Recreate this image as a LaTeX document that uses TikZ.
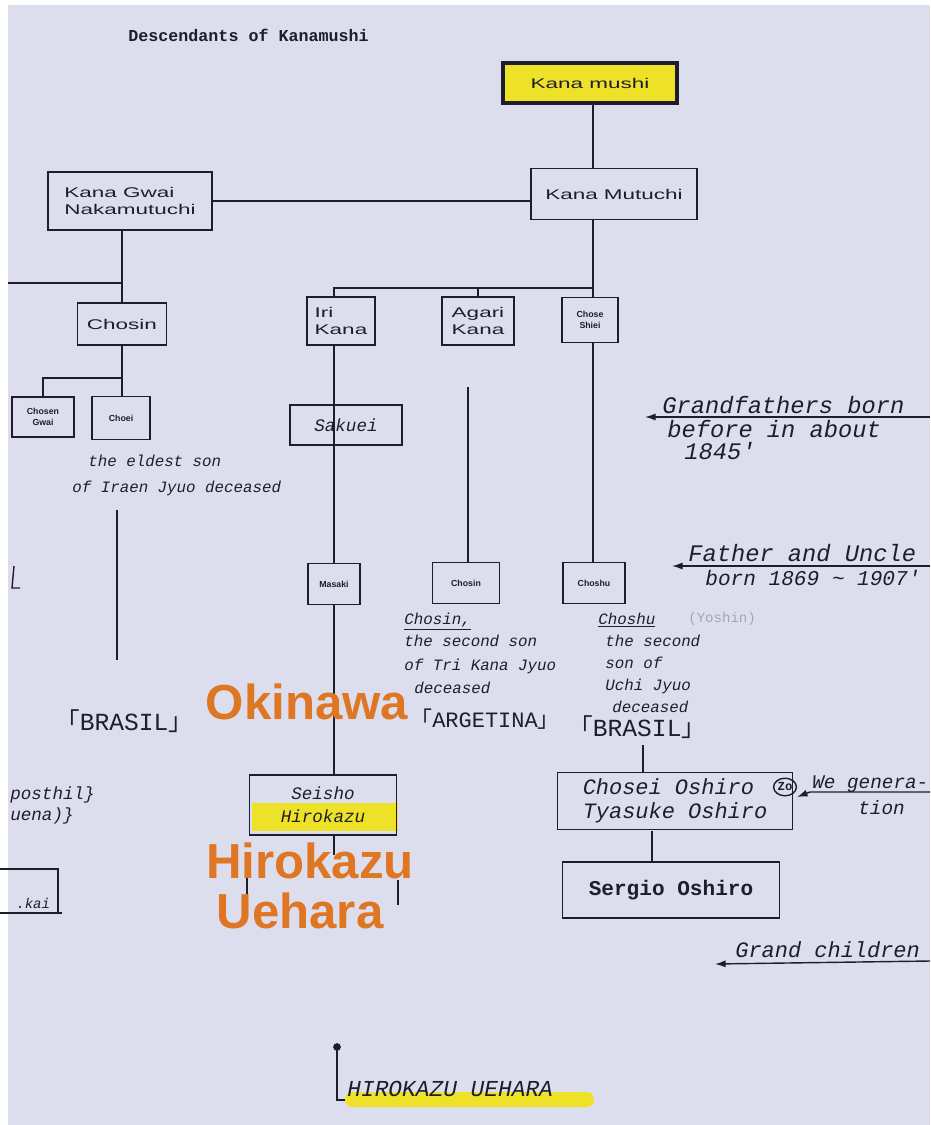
\documentclass[tikz,border=0pt]{standalone}
\usepackage{fontspec}
\setmainfont{Liberation Sans}
\newfontfamily\boxfont[FakeStretch=1.6]{Liberation Sans}
\newfontfamily\handfont{Liberation Mono}
\newfontfamily\bigfont{Liberation Sans}
\newfontfamily\cjk{Noto Sans CJK SC}
\usetikzlibrary{arrows.meta}
\definecolor{paper}{RGB}{221,222,237}
\definecolor{hl}{RGB}{238,226,40}
\definecolor{orng}{RGB}{222,118,36}
\definecolor{ink}{RGB}{30,30,42}
\definecolor{greyink}{RGB}{165,165,180}
\newcommand{\lbr}{{\cjk\char"300C}}
\newcommand{\rbr}{{\cjk\char"300D}}
\begin{document}
\begin{tikzpicture}[x=0.02cm,y=-0.02cm,
  pbox/.style 2 args={draw=ink,line width=1.1pt,inner sep=0pt,
    minimum width={#1*0.02cm},minimum height={#2*0.02cm},align=center,
    font=\boxfont\fontsize{8}{10}\selectfont,text=ink},
  tinybox/.style 2 args={pbox={#1}{#2},font=\bfseries\fontsize{5}{6}\selectfont},
  conn/.style={draw=ink,line width=0.8pt},
  hand/.style={anchor=base west,inner sep=0pt,text=ink,font=\handfont\itshape\fontsize{9}{11}\selectfont},
  bighand/.style={anchor=base west,inner sep=0pt,text=ink,font=\handfont\itshape\fontsize{13.5}{16}\selectfont},
  caps/.style={anchor=base west,inner sep=0pt,text=ink,font=\handfont\itshape\fontsize{14}{16}\selectfont},
  orangetext/.style={anchor=base,inner sep=0pt,text=orng,font=\bigfont\bfseries\fontsize{28}{30}\selectfont},
  notearrow/.style={draw=ink,line width=0.8pt,{Latex[length=6pt,width=4pt]}-}
]
\useasboundingbox (0,0) rectangle (930,1125);
\clip (0,0) rectangle (930,1125);
\fill[paper] (0,0) rectangle (930,1125);
\fill[white] (0,0) rectangle (930,5);
\fill[white] (0,0) rectangle (8,1125);

% title
\node[anchor=base west,inner sep=0pt,text=ink,font=\handfont\bfseries\fontsize{9.5}{11}\selectfont] (title) at (128,42) {Descendants of Kanamushi};

% top generation
\node[pbox={174}{40},fill=hl,line width=2pt] (km) at (590,83) {Kana mushi};
\node[pbox={166}{51}] (kmu) at (614,194) {Kana Mutuchi};
\node[pbox={164}{58},align=left] (kg) at (130,201) {Kana Gwai\\Nakamutuchi};

% second row
\node[pbox={89}{42}] (chosin) at (122,324) {Chosin};
\node[pbox={68}{48},align=left] (iri) at (341,321) {Iri\\Kana};
\node[pbox={72}{48},align=left] (agari) at (478,321) {Agari\\Kana};
\node[tinybox={56}{45}] (chose) at (590,320) {Chose\\Shiei};

% third row
\node[tinybox={62}{40}] (sa) at (43,417) {Chosen\\Gwai};
\node[tinybox={58}{43}] (sb) at (121,418) {Choei};
\node[pbox={112}{40},font=\handfont\itshape\fontsize{10}{12}\selectfont] (sakuei) at (346,425) {Sakuei};

% fourth row
\node[tinybox={52}{41}] (masaki) at (334,584) {Masaki};
\node[tinybox={67}{41}] (chosin2) at (466,583) {Chosin};
\node[tinybox={62}{41}] (choshu) at (594,583) {Choshu};

% lower boxes
\fill[hl] (252,803) rectangle (398,831);
\node[pbox={147}{60},line width=0.9pt,font=\handfont\itshape\fontsize{10}{13}\selectfont] (seisho) at (323,805) {Seisho\\Hirokazu};
\node[pbox={235}{57},line width=0.9pt,font=\handfont\itshape\fontsize{12.5}{14}\selectfont,align=left] (oshiro) at (675,801) {Chosei Oshiro\hspace{22pt}\\Tyasuke Oshiro};
\draw[ink,line width=0.8pt] (785,787) ellipse [x radius=6.5pt,y radius=5pt];
\node[inner sep=0pt,text=ink,font=\handfont\bfseries\fontsize{7}{8}\selectfont] (zo) at (785,787) {Zo};
\node[pbox={217}{56},font=\handfont\bfseries\fontsize{12}{14}\selectfont] (sergio) at (671,890) {Sergio Oshiro};

% connectors
\coordinate (j1) at (593,288);
\coordinate (lft) at (8,283);
\coordinate (j2) at (122,378);
\draw[conn] (km.south -| j1) -- (kmu.north -| j1);
\draw[conn] (kg.east) -- (kg.east -| kmu.west);
\draw[conn] (chosin.north |- kg.south) -- (chosin.north);
\draw[conn] (lft) -- (chosin.north |- lft);
\draw[conn] (kmu.south -| j1) -- (j1);
\draw[conn] (j1) -- (j1 -| masaki.north) -- (masaki.north |- iri.north);
\draw[conn] (agari.north |- j1) -- (agari.north);
\draw[conn] (j1) -- (chose.north -| j1);
\draw[conn] (chosin.south) -- (j2);
\draw[conn] (j2) -- (j2 -| sa.north) -- (sa.north);
\draw[conn] (j2) -- (sb.north -| j2);
\draw[conn] (masaki.north |- iri.south) -- (masaki.north);
\draw[conn] (masaki.south) -- (masaki.south |- seisho.north);
\coordinate (ag1) at (468,387);
\draw[conn] (ag1) -- (ag1 |- chosin2.north);
\draw[conn] (chose.south -| j1) -- (choshu.north -| j1);
\coordinate (cl1) at (117,510);
\coordinate (cl2) at (117,660);
\draw[conn] (cl1) -- (cl2);
\coordinate (br1) at (643,745);
\draw[conn,line width=0.6pt] (br1) -- (br1 |- oshiro.north);
\coordinate (os1) at (652,831);
\draw[conn,line width=1.2pt] (os1) -- (os1 |- sergio.north);
\coordinate (ss1) at (334,835);
\draw[conn,line width=0.6pt] (seisho.south -| ss1) -- (334,855);
\draw[conn,line width=0.6pt] (247,876) -- (247,905);
\draw[conn,line width=0.6pt] (398,880) -- (398,905);

% notes around Chosin
\node[hand] (eld1) at (88,466) {the eldest son};
\node[hand] (eld2) at (72,492) {of Iraen Jyuo deceased};

% notes under chosin2
\node[hand] (c1) at (404,624) {\underline{Chosin,}};
\node[hand] (c2) at (404,646) {the second son};
\node[hand] (c3) at (404,670) {of Tri Kana Jyuo};
\node[hand] (c4) at (414,693) {deceased};
\node[caps,font=\handfont\itshape\fontsize{12.5}{15}\selectfont] (arg) at (410,727) {\lbr\upshape ARGETINA\rbr};

% notes under choshu
\node[hand] (d1) at (598,624) {\underline{Choshu}};
\node[hand,text=greyink,font=\handfont\fontsize{8}{10}\selectfont] (d1b) at (688,622) {(Yoshin)};
\node[hand] (d2) at (605,646) {the second};
\node[hand] (d3) at (605,668) {son of};
\node[hand] (d4) at (605,690) {Uchi Jyuo};
\node[hand] (d5) at (612,712) {deceased};
\node[caps] (br2) at (568,736) {\lbr\upshape BRASIL\rbr};
\node[caps] (br3) at (55,730) {\lbr\upshape BRASIL\rbr};

% orange labels
\node[orangetext] (oki) at (307,719) {Okinawa};
\node[orangetext] (hiro) at (310,878) {Hirokazu};
\node[orangetext] (ueh) at (300,928) {Uehara};

% right notes
\coordinate (ga) at (645,417);
\coordinate (gb) at (930,417);
\draw[notearrow] (ga) -- (gb);
\node[bighand] (gf1) at (662,413) {Grandfathers born};
\node[bighand] (gf2) at (667,437) {before in about};
\node[bighand] (gf3) at (684,459) {1845'};

\coordinate (fa) at (672,566);
\coordinate (fb) at (930,566);
\draw[notearrow] (fa) -- (fb);
\node[bighand] (f1) at (688,561) {Father and Uncle};
\node[bighand,font=\handfont\itshape\fontsize{12}{14}\selectfont] (f2) at (705,585) {born 1869 \textasciitilde\ 1907'};

\coordinate (wa) at (797,797);
\coordinate (wb) at (930,792);
\draw[notearrow] (wa) -- (810,792) -- (wb);
\node[bighand,font=\handfont\itshape\fontsize{11}{13}\selectfont] (w1) at (812,788) {We genera-};
\node[bighand,font=\handfont\itshape\fontsize{11}{13}\selectfont] (w2) at (858,814) {tion};

\coordinate (gca) at (715,964);
\coordinate (gcb) at (930,961);
\draw[notearrow] (gca) -- (gcb);
\node[bighand,font=\handfont\itshape\fontsize{12.5}{14}\selectfont] (gc) at (735,957) {Grand children};

% bottom label
\fill[hl,rounded corners=4pt] (345,1092) rectangle (594,1107);
\coordinate (bd) at (337,1047);
\fill[ink] (bd) circle [radius=2.2pt];
\draw[conn,line width=0.6pt] (bd) -- (337,1100) -- (345,1100);
\node[caps,font=\handfont\itshape\fontsize{13}{15}\selectfont] (hu) at (347,1096) {HIROKAZU UEHARA};

% left-edge fragments
\draw[conn] (14,566) -- (12,588) -- (20,588);
\node[hand,font=\handfont\itshape\fontsize{10}{12}\selectfont] (ph1) at (10,799) {posthil\}};
\node[hand,font=\handfont\itshape\fontsize{10}{12}\selectfont] (ph2) at (10,820) {uena)\}};
\draw[conn,line width=0.6pt] (-5,869) -- (58,869) -- (58,913);
\draw[conn,line width=1pt] (-5,913) -- (62,913);
\node[hand,font=\handfont\itshape\fontsize{8}{10}\selectfont] (kai) at (16,908) {.kai};
\end{tikzpicture}
\end{document}
